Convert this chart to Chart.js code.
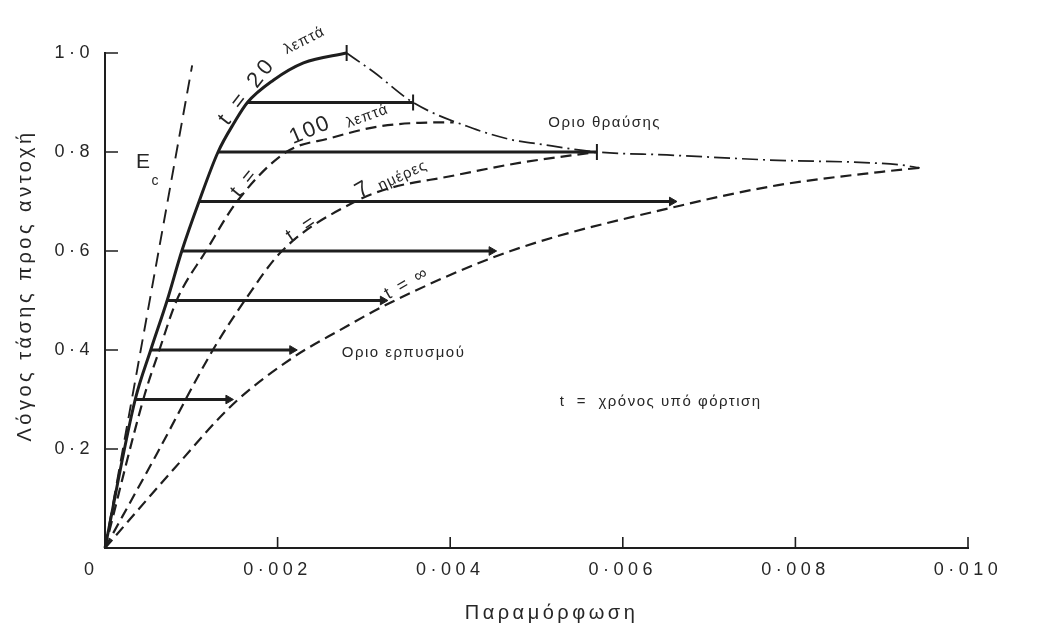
<!DOCTYPE html>
<html>
<head>
<meta charset="utf-8">
<script src="https://cdn.jsdelivr.net/npm/chart.js@4.4.1/dist/chart.umd.min.js"></script>
<style>
  html, body { margin: 0; padding: 0; background: #fff; }
  #wrap { width: 1040px; height: 628px; }
</style>
</head>
<body>
<div id="wrap"><canvas id="creepChart"></canvas></div>
<script>
// axis ticks
var strainTicks = [0, 0.002, 0.004, 0.006, 0.008, 0.010];
var ratioTicks = [0, 0.2, 0.4, 0.6, 0.8, 1.0];

// initial tangent (Ec)
var ecStrain = [0, 0.00101];
var ecRatio = [0, 0.975];

// t = 20 min loading curve
var t20Strain = [0, 0.00035, 0.00053, 0.00072, 0.00089, 0.00109, 0.00131, 0.00150, 0.00165, 0.00195, 0.0023, 0.0028];
var t20Ratio = [0, 0.30, 0.40, 0.50, 0.60, 0.70, 0.80, 0.86, 0.90, 0.945, 0.98, 1.0];

// t = 100 min
var t100Strain = [0, 0.00046, 0.00063, 0.00083, 0.00117, 0.00153, 0.0021, 0.00261, 0.00315, 0.00365, 0.00404];
var t100Ratio = [0, 0.31, 0.40, 0.50, 0.60, 0.70, 0.80, 0.828, 0.851, 0.859, 0.86];

// t = 7 days
var t7dStrain = [0, 0.0006, 0.00125, 0.0016, 0.00205, 0.0029, 0.0033, 0.0040, 0.0048, 0.0057];
var t7dRatio = [0, 0.19, 0.40, 0.495, 0.60, 0.70, 0.727, 0.751, 0.778, 0.80];

// t = infinity (creep limit)
var tInfStrain = [0, 0.0008, 0.00148, 0.00218, 0.00272, 0.0033, 0.0047, 0.0067, 0.0078, 0.0090, 0.00944];
var tInfRatio = [0, 0.16, 0.29, 0.385, 0.44, 0.495, 0.60, 0.693, 0.733, 0.76, 0.768];

// failure envelope
var failStrain = [0.0028, 0.00311, 0.00357, 0.00426, 0.00473, 0.00496, 0.0057, 0.00651, 0.00767, 0.00921, 0.00944];
var failRatio = [1.0, 0.962, 0.90, 0.848, 0.824, 0.818, 0.80, 0.794, 0.784, 0.774, 0.768];

// failure marks
var breakStrain = [0.0028, 0.00357, 0.0057];
var breakRatio = [1.0, 0.90, 0.80];

// sustained load levels
var loadRatio = [0.3, 0.4, 0.5, 0.6, 0.7, 0.8, 0.9];
var loadStart = [0.00035, 0.00053, 0.00072, 0.00089, 0.00109, 0.00131, 0.00165];
var loadEnd = [0.00143, 0.00217, 0.00322, 0.00448, 0.00657, 0.0057, 0.00357];
var loadArrow = [true, true, true, true, true, false, false];

var INK = '#1e1e1e';
var FONT = '"Liberation Sans", Arial, sans-serif';

function pts(xs, ys) {
    return xs.map(function (x, i) { return { x: x, y: ys[i] }; });
}

function curve(data, width, dash) {
    return {
        data: data,
        showLine: true,
        borderColor: INK,
        borderWidth: width,
        borderDash: dash,
        pointRadius: 0,
        cubicInterpolationMode: 'monotone',
        clip: false
    };
}

var datasets = [
    curve(pts(ecStrain, ecRatio), 1.9, [14, 8]),
    curve(pts(t20Strain, t20Ratio), 3, []),
    curve(pts(t100Strain, t100Ratio), 2.2, [11, 6]),
    curve(pts(t7dStrain, t7dRatio), 2.2, [11, 6]),
    curve(pts(tInfStrain, tInfRatio), 2.2, [11, 6]),
    curve(pts(failStrain, failRatio), 1.7, [16, 5, 2, 5])
];

loadRatio.forEach(function (r, i) {
    var ds = curve([{ x: loadStart[i], y: r }, { x: loadEnd[i], y: r }], 3, []);
    ds.cubicInterpolationMode = 'default';
    ds.pointStyle = 'triangle';
    ds.rotation = 90;
    ds.pointBackgroundColor = INK;
    ds.pointBorderColor = INK;
    ds.pointBorderWidth = 1;
    ds.pointRadius = function (c) { return (loadArrow[i] && c.dataIndex === 1) ? 5 : 0; };
    datasets.push(ds);
});

datasets.push({
    data: pts(breakStrain, breakRatio),
    showLine: false,
    pointStyle: 'line',
    rotation: 90,
    pointRadius: 8,
    borderColor: INK,
    pointBorderColor: INK,
    pointBorderWidth: 2,
    clip: false
});

function putText(ctx, str, x, y, size, angle, spacing, align) {
    ctx.save();
    ctx.translate(x, y);
    ctx.rotate((angle || 0) * Math.PI / 180);
    ctx.font = size + 'px ' + FONT;
    ctx.letterSpacing = (spacing || 0) + 'px';
    ctx.textAlign = align || 'center';
    ctx.textBaseline = 'middle';
    ctx.fillStyle = '#262626';
    ctx.fillText(str, 0, 0);
    ctx.restore();
}

// curve labels, anchored in data units: [text, strain, ratio, size, angle, spacing, align]
var labels = [
    ['E', 0.00044, 0.78, 21, 0, 0],
    ['c', 0.00058, 0.741, 14, 0, 0],
    ['t = 20', 0.00165, 0.923, 22, -52, 4],
    ['λεπτά', 0.00231, 1.025, 15, -27, 1],
    ['t =', 0.00162, 0.739, 20, -51, 3],
    ['100', 0.00238, 0.844, 22, -23, 2],
    ['λεπτά', 0.00304, 0.872, 15, -20, 1],
    ['t =', 0.00229, 0.646, 20, -34, 4],
    ['7', 0.00298, 0.723, 22, -30, 0],
    ['ημέρες', 0.00345, 0.752, 15, -25, 1],
    ['t = ∞', 0.0035, 0.535, 18, -30, 2],
    ['Οριο θραύσης', 0.00579, 0.859, 15, 0, 1.5],
    ['Οριο ερπυσμού', 0.00346, 0.394, 15, 0, 1.5],
    ['t  =  χρόνος υπό φόρτιση', 0.00527, 0.295, 15, 0, 1.5, 'left']
];

var annotate = {
    id: 'annotate',
    beforeDraw: function (chart) {
        chart.ctx.letterSpacing = '4.5px';
    },
    afterDraw: function (chart) {
        var ctx = chart.ctx;
        var xs = chart.scales.x, ys = chart.scales.y;
        var area = chart.chartArea;
        ctx.letterSpacing = '0px';

        // inward tick marks
        ctx.save();
        ctx.strokeStyle = INK;
        ctx.lineWidth = 1.6;
        ctx.beginPath();
        ratioTicks.forEach(function (v) {
            if (v === 0) return;
            var py = ys.getPixelForValue(v);
            ctx.moveTo(area.left, py);
            ctx.lineTo(area.left + 13, py);
        });
        strainTicks.forEach(function (v) {
            if (v === 0) return;
            var px = xs.getPixelForValue(v);
            ctx.moveTo(px, area.bottom);
            ctx.lineTo(px, area.bottom - 11);
        });
        ctx.stroke();
        ctx.restore();

        labels.forEach(function (l) {
            putText(ctx, l[0], xs.getPixelForValue(l[1]), ys.getPixelForValue(l[2]), l[3], l[4], l[5], l[6]);
        });

        // origin label
        putText(ctx, '0', area.left - 16, area.bottom + 22, 18, 0, 0);
        // axis titles
        putText(ctx, 'Παραμόρφωση', (area.left + area.right) / 2 + 15, area.bottom + 65, 20, 0, 3.5);
        putText(ctx, 'Λόγος τάσης προς αντοχή', 25, (area.top + area.bottom) / 2 - 15, 20, -90, 3.5);
    }
};

var ctx = document.getElementById('creepChart').getContext('2d');
var creepChart = new Chart(ctx, {
    type: 'scatter',
    data: { datasets: datasets },
    options: {
        responsive: true,
        maintainAspectRatio: false,
        animation: false,
        layout: { padding: { top: 53, right: 72, left: 0, bottom: 0 } },
        plugins: {
            legend: { display: false },
            tooltip: { enabled: false }
        },
        scales: {
            x: {
                type: 'linear',
                min: 0,
                max: 0.010,
                afterFit: function (s) { s.height = 80; },
                afterBuildTicks: function (s) {
                    s.ticks = strainTicks.map(function (v) { return { value: v }; });
                },
                grid: { display: false, drawTicks: false },
                border: { display: true, color: INK, width: 2 },
                ticks: {
                    padding: 11,
                    color: '#262626',
                    font: { family: FONT, size: 18 },
                    maxRotation: 0,
                    callback: function (v) { return v === 0 ? '' : v.toFixed(3).replace('.', '·'); }
                }
            },
            y: {
                type: 'linear',
                min: 0,
                max: 1.0,
                afterFit: function (s) { s.width = 105; },
                afterBuildTicks: function (s) {
                    s.ticks = ratioTicks.map(function (v) { return { value: v }; });
                },
                grid: { display: false, drawTicks: false },
                border: { display: true, color: INK, width: 2 },
                ticks: {
                    padding: 11,
                    color: '#262626',
                    font: { family: FONT, size: 18 },
                    callback: function (v) { return v === 0 ? '' : v.toFixed(1).replace('.', '·'); }
                }
            }
        }
    },
    plugins: [annotate]
});
</script>
</body>
</html>
